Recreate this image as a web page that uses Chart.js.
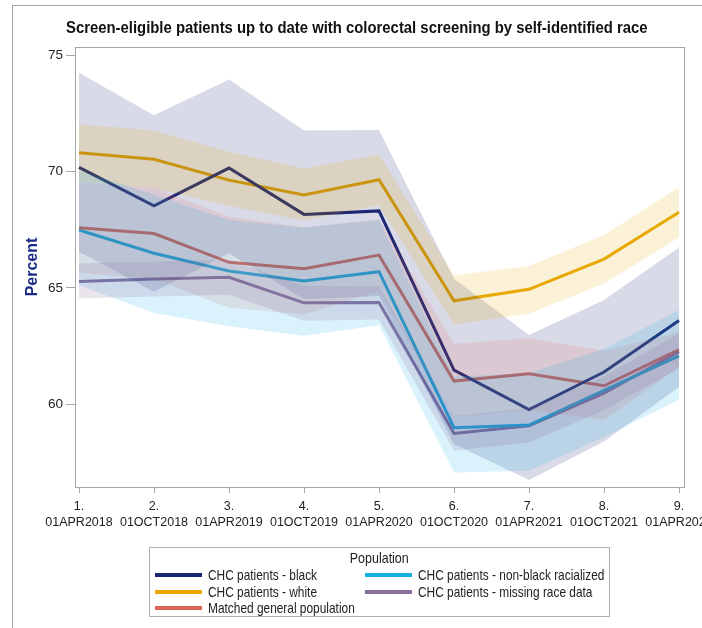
<!DOCTYPE html>
<html>
<head>
<meta charset="utf-8">
<script src="https://cdn.jsdelivr.net/npm/chart.js@4.4.1/dist/chart.umd.min.js"></script>
<style>
  html, body { margin: 0; padding: 0; background: #fff; overflow: hidden; }
  #wrap { position: relative; width: 702px; height: 628px; overflow: hidden; }
  #frame { position: absolute; left: 12px; top: 5px; width: 900px; height: 900px;
           border-left: 1px solid #a6a6a6; border-top: 1px solid #a6a6a6; pointer-events: none; }
  #chart { position: absolute; left: 0; top: 0; }
  #title { position: absolute; left: 66px; top: 18px; white-space: nowrap;
           font-family: 'Liberation Sans', Arial, sans-serif; font-weight: bold; font-size: 16.5px;
           color: #111; transform-origin: left top; }
  #legend { position: absolute; left: 149px; top: 547px; width: 459px; height: 68px;
            border: 1px solid #b0b0b0; background: #fff;
            font-family: 'Liberation Sans', Arial, sans-serif; font-size: 14.5px; color: #222; }
  #legend .ttl { position: absolute; left: 0; right: 0; top: 2px; text-align: center; }
  #legend .ttl span { display: inline-block; transform: scaleX(0.86); }
  #legend .item { position: absolute; height: 17px; line-height: 17px; white-space: nowrap; }
  #legend .sw { display: inline-block; width: 47px; height: 4px; vertical-align: middle;
                margin-right: 6px; position: relative; top: -1px; }
  #legend .tx { display: inline-block; transform: scaleX(0.82); transform-origin: left center; }
</style>
</head>
<body>
<div id="wrap">
  <canvas id="chart" width="702" height="628"></canvas>
  <div id="frame"></div>
  <div id="title">Screen-eligible patients up to date with colorectal screening by self-identified race</div>
  <div id="legend"></div>
</div>
<script>
// Survey periods (x axis)
const periods = ['01APR2018', '01OCT2018', '01APR2019', '01OCT2019', '01APR2020',
                 '01OCT2020', '01APR2021', '01OCT2021', '01APR2022'];
const yTicks = [60, 65, 70, 75];

// Percent up to date, with lower / upper band limits
const blackPct   = [70.18, 68.53, 70.15, 68.16, 68.31, 61.47, 59.78, 61.39, 63.60];
const blackUpper = [74.24, 72.42, 73.95, 71.76, 71.78, 65.40, 62.98, 64.48, 66.74];
const blackLower = [66.56, 64.84, 66.49, 64.51, 64.65, 58.30, 56.75, 58.40, 60.75];

const whitePct   = [70.81, 70.53, 69.63, 68.99, 69.65, 64.45, 64.94, 66.24, 68.25];
const whiteUpper = [72.03, 71.76, 70.85, 70.13, 70.73, 65.55, 65.94, 67.27, 69.32];
const whiteLower = [69.56, 69.29, 68.52, 67.90, 68.55, 63.42, 63.90, 65.19, 67.17];

const matchedPct   = [67.59, 67.34, 66.10, 65.83, 66.41, 61.00, 61.31, 60.80, 62.35];
const matchedUpper = [69.54, 69.30, 68.06, 67.60, 67.95, 62.60, 62.84, 62.30, 63.10];
const matchedLower = [65.64, 65.39, 64.15, 63.86, 64.86, 59.47, 59.76, 59.33, 61.60];

const nonBlackPct   = [67.49, 66.49, 65.73, 65.30, 65.70, 59.00, 59.11, 60.60, 62.08];
const nonBlackUpper = [70.06, 69.00, 67.92, 67.60, 67.92, 61.20, 61.35, 62.38, 64.05];
const nonBlackLower = [65.12, 63.92, 63.35, 62.95, 63.40, 57.07, 57.15, 58.60, 60.20];

const missingPct   = [65.28, 65.38, 65.46, 64.36, 64.38, 58.75, 59.08, 60.48, 62.26];
const missingUpper = [66.06, 66.13, 66.21, 65.09, 65.07, 59.50, 59.82, 61.20, 63.05];
const missingLower = [64.55, 64.63, 64.71, 63.59, 63.65, 58.02, 58.36, 59.75, 61.55];

const seriesNames = ['CHC patients - black', 'CHC patients - white', 'Matched general population',
                     'CHC patients - non-black racialized', 'CHC patients - missing race data'];

const FONT = "'Liberation Sans', Arial, sans-serif";

const series = [
  { name: seriesNames[0], pct: blackPct,    lo: blackLower,    hi: blackUpper,    rgb: [27, 38, 112] },
  { name: seriesNames[1], pct: whitePct,    lo: whiteLower,    hi: whiteUpper,    rgb: [232, 168, 0] },
  { name: seriesNames[2], pct: matchedPct,  lo: matchedLower,  hi: matchedUpper,  rgb: [222, 104, 88] },
  { name: seriesNames[3], pct: nonBlackPct, lo: nonBlackLower, hi: nonBlackUpper, rgb: [22, 176, 228] },
  { name: seriesNames[4], pct: missingPct,  lo: missingLower,  hi: missingUpper,  rgb: [136, 108, 156] }
];
const bandAlpha = [0.17, 0.16, 0.15, 0.16, 0.18];

const toXY = arr => arr.map((v, i) => ({ x: i + 1, y: v }));
const rgba = (c, a) => `rgba(${c[0]},${c[1]},${c[2]},${a})`;

const datasets = [];
// lines (drawn underneath the translucent bands)
series.forEach(s => {
  datasets.push({
    label: s.name, data: toXY(s.pct), borderColor: rgba(s.rgb, 1), borderWidth: 3,
    pointRadius: 0, fill: false, tension: 0, order: 10
  });
});
// bands: upper limit filled down to lower limit
series.forEach((s, k) => {
  const upIdx = datasets.length;
  datasets.push({
    label: s.name + ' upper', data: toXY(s.hi), borderWidth: 0, borderColor: 'rgba(0,0,0,0)',
    pointRadius: 0, backgroundColor: rgba(s.rgb, bandAlpha[k]), fill: upIdx + 1, order: 5 - k
  });
  datasets.push({
    label: s.name + ' lower', data: toXY(s.lo), borderWidth: 0, borderColor: 'rgba(0,0,0,0)',
    pointRadius: 0, fill: false, order: 5 - k
  });
});

const frame = {
  id: 'plotFrame',
  afterDraw(chart) {
    const { ctx, chartArea: a } = chart;
    ctx.save();
    ctx.strokeStyle = '#a6a6a6';
    ctx.lineWidth = 1;
    ctx.strokeRect(Math.round(a.left) + 0.5, Math.round(a.top) + 0.5,
                   Math.round(a.right - a.left), Math.round(a.bottom - a.top));
    ctx.restore();
  }
};

new Chart(document.getElementById('chart'), {
  type: 'line',
  data: { datasets },
  plugins: [frame],
  options: {
    responsive: false,
    animation: false,
    layout: { padding: { left: 0, right: 18, top: 47, bottom: 91 } },
    plugins: {
      legend: { display: false },
      tooltip: { enabled: false },
      title: { display: false }
    },
    scales: {
      x: {
        type: 'linear', min: 1 - 4 / 75, max: 9 + 5 / 75,
        afterBuildTicks: sc => { sc.ticks = periods.map((p, i) => ({ value: i + 1 })); },
        afterFit: sc => { sc.height = 50; sc.paddingLeft = 0; sc.paddingRight = 0; },
        grid: { drawOnChartArea: false, tickLength: 6, color: '#a6a6a6' },
        border: { color: '#a6a6a6' },
        ticks: {
          autoSkip: false, maxRotation: 0, padding: 5, color: '#222',
          font: { family: FONT, size: 12.5, lineHeight: 1.3 },
          callback: v => [`${v}.`, periods[v - 1]]
        }
      },
      y: {
        min: 56.45, max: 75.35,
        afterBuildTicks: sc => { sc.ticks = yTicks.map(v => ({ value: v })); },
        afterFit: sc => { sc.width = 75; },
        grid: { drawOnChartArea: false, tickLength: 9, color: '#a6a6a6' },
        border: { color: '#a6a6a6' },
        ticks: { padding: 3, color: '#222', font: { family: FONT, size: 13.5 } },
        title: {
          display: true, text: 'Percent', color: '#1c2f86',
          font: { family: FONT, size: 16, weight: 'bold' },
          padding: { top: 23, bottom: 0 }
        }
      }
    }
  }
});

// Title squeezed to the condensed width of the heading
const ttl = document.getElementById('title');
ttl.style.transform = `scaleX(${582 / ttl.offsetWidth})`;

// Legend: three rows in the first column, the rest in the second
const lg = document.getElementById('legend');
const t = document.createElement('div');
t.className = 'ttl';
const ts = document.createElement('span');
ts.textContent = 'Population';
t.appendChild(ts);
lg.appendChild(t);
series.forEach((s, i) => {
  const col = i < 3 ? 0 : 1, row = i < 3 ? i : i - 3;
  const it = document.createElement('div');
  it.className = 'item';
  it.style.left = (5 + col * 210) + 'px';
  it.style.top = (19 + row * 16.5) + 'px';
  const sw = document.createElement('span');
  sw.className = 'sw';
  sw.style.background = rgba(s.rgb, 1);
  it.appendChild(sw);
  const tx = document.createElement('span');
  tx.className = 'tx';
  tx.textContent = s.name;
  it.appendChild(tx);
  lg.appendChild(it);
});
</script>
</body>
</html>
